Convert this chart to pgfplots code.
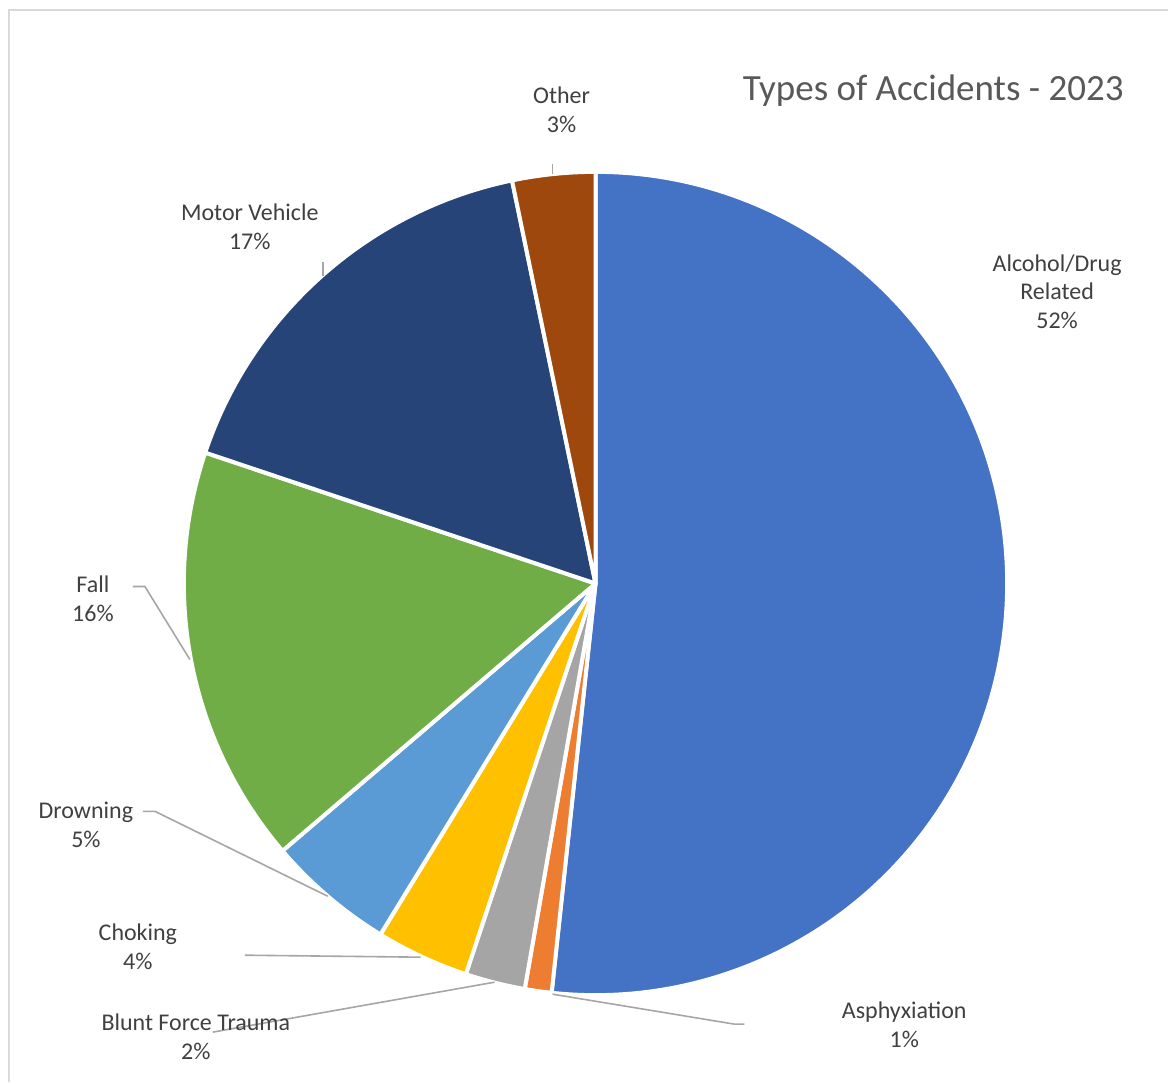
\documentclass[border=0pt]{standalone}
\usepackage{fontspec}
\setmainfont{Carlito}
\usepackage{pgfplots}
\usepackage{pgfplotstable}
\pgfplotsset{compat=1.18}
\definecolor{c0}{HTML}{4472C4}
\definecolor{c1}{HTML}{ED7D31}
\definecolor{c2}{HTML}{A5A5A5}
\definecolor{c3}{HTML}{FFC000}
\definecolor{c4}{HTML}{5B9BD5}
\definecolor{c5}{HTML}{70AD47}
\definecolor{c6}{HTML}{264478}
\definecolor{c7}{HTML}{9E480E}
\definecolor{txt}{HTML}{404040}
\definecolor{ttl}{HTML}{595959}
\definecolor{lead}{HTML}{A6A6A6}
\definecolor{frame}{HTML}{D9D9D9}
\pgfplotstableread[col sep=comma]{
name,value
Alcohol/Drug Related,51.7
Asphyxiation,1.05
Blunt Force Trauma,2.35
Choking,3.65
Drowning,5.0
Fall,16.4
Motor Vehicle,16.6
Other,3.25
}\accdata
\begin{document}
\begin{tikzpicture}
\gdef\cum{0}
\foreach \i in {0,...,7}{%
  \pgfplotstablegetelem{\i}{value}\of\accdata
  \pgfmathsetmacro\s{90-3.6*\cum}%
  \pgfmathsetmacro\newcum{\cum+\pgfplotsretval}%
  \pgfmathsetmacro\e{90-3.6*\newcum}%
  \expandafter\xdef\csname sa\i\endcsname{\s}%
  \expandafter\xdef\csname ea\i\endcsname{\e}%
  \xdef\cum{\newcum}%
}
\begin{axis}[hide axis, scale only axis, x=0.5pt, y=0.5pt,
  xmin=0, xmax=1169, ymin=0, ymax=1083, clip=false]
\fill[white] (axis cs:0,0) rectangle (axis cs:1169,1083);
\draw[frame, line width=1pt] (axis cs:9,0) -- (axis cs:9,1073) -- (axis cs:1169,1073);
\pgfplotsinvokeforeach{0,...,7}{
  \filldraw[fill=c#1, draw=white, line width=2pt, line join=round]
    (axis cs:596,499) -- ++(\csname sa#1\endcsname:206pt)
    arc[start angle=\csname sa#1\endcsname, end angle=\csname ea#1\endcsname, radius=206pt] -- cycle;
}
% leader lines
\draw[lead, line width=0.8pt] (axis cs:553,919) -- (axis cs:553,909);
\draw[lead, line width=0.8pt] (axis cs:323,821) -- (axis cs:323,807);
\draw[lead, line width=0.8pt] (axis cs:133,496) -- (axis cs:145,496) -- (axis cs:190,423);
\draw[lead, line width=0.8pt] (axis cs:143,271) -- (axis cs:155,271) -- (axis cs:328,186);
\draw[lead, line width=0.8pt] (axis cs:245,127) -- (axis cs:421,125);
\draw[lead, line width=0.8pt] (axis cs:213,50) -- (axis cs:495,100);
\draw[lead, line width=0.8pt] (axis cs:553,88) -- (axis cs:735,58) -- (axis cs:745,58);
% labels
\tikzset{lbl/.style={text=txt, align=center, inner sep=0pt, font=\fontsize{12}{14.5}\selectfont}}
\node[lbl] at (axis cs:562,973) {Other\\3\%};
\node[lbl] at (axis cs:250,856) {Motor Vehicle\\17\%};
\node[lbl] at (axis cs:1058,791) {Alcohol/Drug\\Related\\52\%};
\node[lbl] at (axis cs:93,484) {Fall\\16\%};
\node[lbl] at (axis cs:86,257) {Drowning\\5\%};
\node[lbl] at (axis cs:138,135) {Choking\\4\%};
\node[lbl] at (axis cs:196,45) {Blunt Force Trauma\\2\%};
\node[lbl] at (axis cs:905,57) {Asphyxiation\\1\%};
\node[text=ttl, inner sep=0pt, font=\fontsize{18.5}{22}\selectfont] at (axis cs:934,992) {Types of Accidents - 2023};
\end{axis}
\end{tikzpicture}
\end{document}
